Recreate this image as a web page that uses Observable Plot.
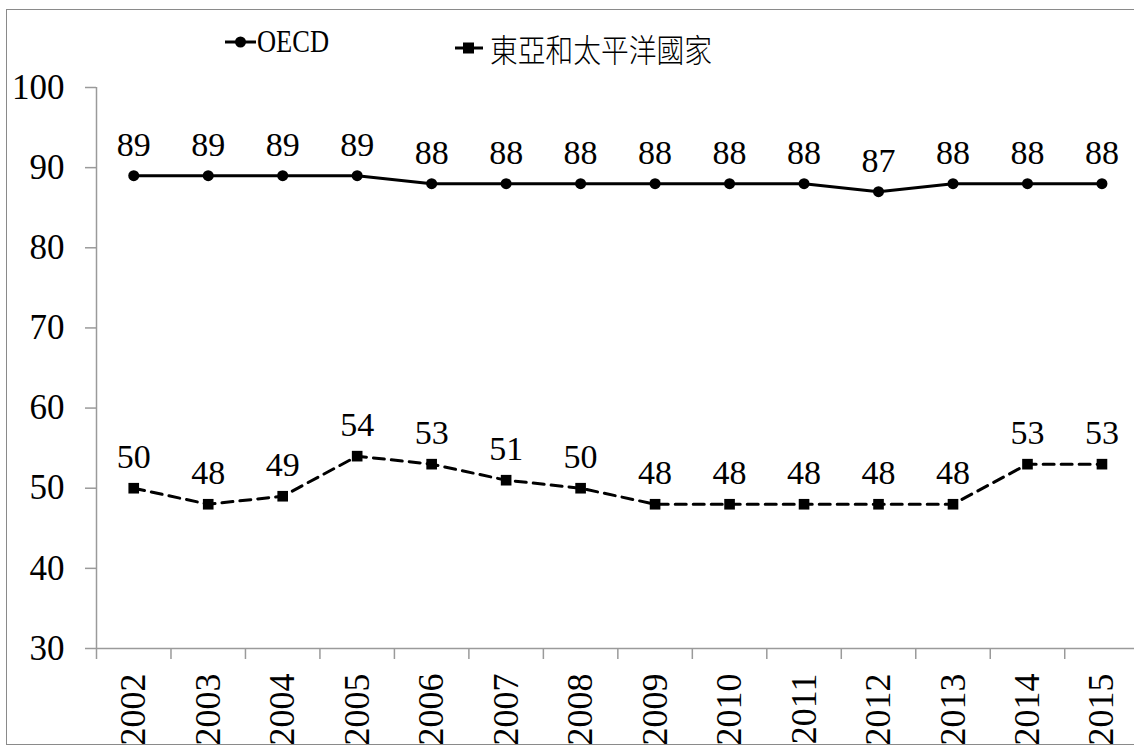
<!DOCTYPE html>
<html>
<head>
<meta charset="utf-8">
<script src="https://cdn.jsdelivr.net/npm/d3@7"></script>
<script src="https://cdn.jsdelivr.net/npm/@observablehq/plot@0.6"></script>
<style>
  html, body { margin: 0; padding: 0; background: white; overflow: hidden; }
  #wrap { position: relative; width: 1134px; height: 747px; }
  #frame { position: absolute; left: 6px; top: 9px; width: 1140px; height: 736px; border: 1.5px solid #8a8a8a; box-sizing: border-box; pointer-events: none; }
  #legend { position: absolute; left: 0; top: 0; width: 1134px; height: 80px; }
  .item { position: absolute; display: flex; align-items: center; }
  .lab1 { display: inline-block; font-size: 29px; color: #000; font-family: "Liberation Serif", "DejaVu Serif", serif; white-space: nowrap; transform: scaleY(1.18); transform-origin: 50% 50%; }
  .lab2 { display: inline-block; font-size: 29px; color: #000; font-family: "Noto Sans CJK TC", sans-serif; font-weight: 300; margin-left: 6px; white-space: nowrap; transform: scaleY(1.15); transform-origin: 50% 50%; }
  #chart svg text { font-family: "Liberation Serif", "DejaVu Serif", serif !important; }
</style>
</head>
<body>
<div id="wrap">
  <div id="chart"></div>
  <div id="legend">
    <div class="item" style="left:224px; top:26px;">
      <svg width="33" height="20"><line x1="1" y1="10" x2="32" y2="10" stroke="#000" stroke-width="3"/><circle cx="16.5" cy="10" r="5.5" fill="#000"/></svg>
      <span class="lab1" id="l1"></span>
    </div>
    <div class="item" style="left:454px; top:28px;">
      <svg width="30" height="20"><line x1="1" y1="10" x2="9" y2="10" stroke="#000" stroke-width="3"/><line x1="19" y1="10" x2="29" y2="10" stroke="#000" stroke-width="3"/><rect x="9" y="4.5" width="11" height="11" fill="#000"/></svg>
      <span class="lab2" id="l2"></span>
    </div>
  </div>
  <div id="frame"></div>
</div>
<script>
const years = [2002, 2003, 2004, 2005, 2006, 2007, 2008, 2009, 2010, 2011, 2012, 2013, 2014, 2015];
const seriesNames = ["OECD", "東亞和太平洋國家"];
const oecd = [89, 89, 89, 89, 88, 88, 88, 88, 88, 88, 87, 88, 88, 88];
const eastAsia = [50, 48, 49, 54, 53, 51, 50, 48, 48, 48, 48, 48, 53, 53];
const yTicks = [30, 40, 50, 60, 70, 80, 90, 100];

const l1 = document.getElementById("l1");
const l2 = document.getElementById("l2");
l1.textContent = seriesNames[0];
l2.textContent = seriesNames[1];
// fit legend label widths to the reference
function fit(el, target, maxSize) {
  const w = el.getBoundingClientRect().width;
  const fs = parseFloat(getComputedStyle(el).fontSize);
  el.style.fontSize = Math.min(maxSize, fs * target / w) + "px";
}
fit(l1, 72, 30);
fit(l2, 222, 34);

const d1 = years.map((y, i) => ({year: y, value: oecd[i]}));
const d2 = years.map((y, i) => ({year: y, value: eastAsia[i]}));
const bounds = [years[0] - 0.5, ...years.map(y => y + 0.5)];

const axisColor = "#9a9a9a";
const serif = "'Liberation Serif', 'DejaVu Serif', serif";

const chart = Plot.plot({
  width: 1134,
  height: 747,
  marginTop: 87,
  marginBottom: 99,
  marginLeft: 96,
  marginRight: 0,
  style: {fontFamily: serif, background: "white", overflow: "hidden"},
  x: {type: "linear", domain: [years[0] - 0.5, years[years.length - 1] + 0.5], range: [96, 1138.7]},
  y: {domain: [30, 100]},
  marks: [
    Plot.ruleY([30], {stroke: axisColor, strokeWidth: 1.5}),
    Plot.ruleX([bounds[0]], {y1: 30, y2: 100, stroke: axisColor, strokeWidth: 1.5}),
    Plot.axisY({ticks: yTicks, tickSize: 11, tickPadding: 21, stroke: axisColor, strokeWidth: 1.5, fontSize: 35, fill: "#000", label: null, tickFormat: d => String(d)}),
    Plot.axisX({ticks: bounds, tickSize: 11, tickFormat: () => "", stroke: axisColor, strokeWidth: 1.5, label: null}),
    Plot.axisX({ticks: years, tickSize: 0, tickPadding: 25, tickRotate: -90, fontSize: 36, fill: "#000", label: null, tickFormat: d => String(d)}),
    Plot.line(d1, {x: "year", y: "value", stroke: "#000", strokeWidth: 3}),
    Plot.dot(d1, {x: "year", y: "value", r: 5.5, fill: "#000", symbol: "circle"}),
    Plot.line(d2, {x: "year", y: "value", stroke: "#000", strokeWidth: 3, strokeDasharray: "11,7"}),
    Plot.dot(d2, {x: "year", y: "value", r: 6, fill: "#000", symbol: "square"}),
    Plot.text(d1, {x: "year", y: "value", text: d => String(d.value), lineAnchor: "bottom", dy: -20, fontSize: 34, fill: "#000"}),
    Plot.text(d2, {x: "year", y: "value", text: d => String(d.value), lineAnchor: "bottom", dy: -20, fontSize: 34, fill: "#000"})
  ]
});
document.getElementById("chart").appendChild(chart);
</script>
</body>
</html>
